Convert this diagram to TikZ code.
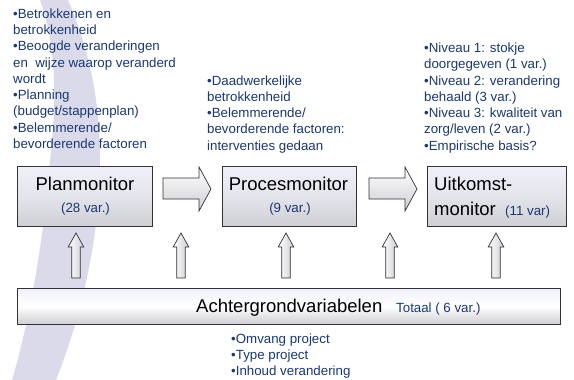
\documentclass[tikz,border=0pt]{standalone}
\usepackage{fontspec}
\setmainfont{Liberation Sans}
\definecolor{txtblue}{RGB}{28,56,112}
\definecolor{swoosh}{RGB}{218,218,234}
\definecolor{edge}{RGB}{50,50,55}
\definecolor{boxtop}{RGB}{240,240,250}
\definecolor{boxmid}{RGB}{228,228,236}
\definecolor{boxbot}{RGB}{206,206,212}
\begin{document}
\begin{tikzpicture}[x=1pt,y=-1pt,
  box/.style={draw=edge,line width=0.9pt,top color=boxtop,bottom color=boxbot,middle color=boxmid},
  bar/.style={draw=edge,line width=0.9pt,top color=boxtop,bottom color=boxbot,middle color=white},
  blockarrow/.style={draw=edge,line width=0.7pt,top color=white,bottom color=boxbot},
  uparrow/.style={draw=edge,line width=0.7pt,left color=white,right color=boxbot},
  list/.style={align=left,anchor=base west,inner sep=0pt,text=txtblue,font=\fontsize{13.3}{16.25}\selectfont},
  title/.style={inner sep=0pt,anchor=base,font=\fontsize{18.5}{22}\selectfont},
  small/.style={inner sep=0pt,anchor=base,text=txtblue,font=\fontsize{13.3}{16}\selectfont}]
\useasboundingbox (0,0) rectangle (574,380);
\fill[white] (0,0) rectangle (574,380);
% background swoosh
\fill[swoosh] (40,0) .. controls (58,50) and (56,110) .. (50,160)
  .. controls (45,230) and (30,320) .. (12,380)
  -- (56,380) .. controls (80,320) and (100,240) .. (100,160)
  .. controls (100,90) and (85,40) .. (68,0) -- cycle;
% boxes
\node[box,minimum width=135pt,minimum height=60pt,anchor=north west] (plan) at (17,166) {};
\node[box,minimum width=134pt,minimum height=60pt,anchor=north west] (proces) at (222,166) {};
\node[box,minimum width=139pt,minimum height=60pt,anchor=north west] (uitkomst) at (427,166) {};
\node[bar,minimum width=543pt,minimum height=36pt,anchor=north west] (achter) at (17,288) {};
% box texts
\node[title] (plant) at (85,190) {Planmonitor};
\node[small] (planv) at (85.5,212) {(28 var.)};
\node[title] (proct) at (288.5,190) {Procesmonitor};
\node[small] (procv) at (290,212) {(9 var.)};
\node[title,anchor=base west] (uitt) at (434,190) {Uitkomst-};
\node[title,anchor=base west] (uitm) at (434,215) {monitor};
\node[small,anchor=base west] (uitv) at (505,215) {(11 var)};
\node[title,anchor=base west] (acht) at (196,312) {Achtergrondvariabelen};
\node[small,anchor=base west] (tot) at (396,312) {Totaal ( 6 var.)};
% lists (anchor base = baseline of last line)
\node[list] (l1) at (13,148.3) {•Betrokkenen en\\betrokkenheid\\•Beoogde veranderingen\\en\ \ wijze waarop veranderd\\wordt\\•Planning\\(budget/stappenplan)\\•Belemmerende/\\bevorderende factoren};
\node[list] (l2) at (207,150) {•Daadwerkelijke\\betrokkenheid\\•Belemmerende/\\bevorderende factoren:\\interventies gedaan};
\node[list] (l3) at (424,150) {•Niveau 1: stokje\\doorgegeven (1 var.)\\•Niveau 2: verandering\\behaald (3 var.)\\•Niveau 3: kwaliteit van\\zorg/leven (2 var.)\\•Empirische basis?};
\node[list] (l4) at (231,375.6) {•Omvang project\\•Type project\\•Inhoud verandering};
% block arrows between boxes
\foreach \sx/\ex/\nm in {163/211/raone, 369/417/ratwo}{
  \coordinate (\nm-s) at (\sx,189);
  \coordinate (\nm-e) at (\ex,189);
  \draw[blockarrow] (\sx,178) -- (\ex-12,178) -- (\ex-12,167) -- (\nm-e) -- (\ex-12,211)
    -- (\ex-12,199) -- (\sx,199) -- cycle;
}
% up arrows from background bar
\foreach \cx/\nm in {76/uone,181/utwo,286/uthree,390/ufour,496/ufive}{
  \coordinate (\nm-tip) at (\cx,233);
  \draw[uparrow] (\cx-4.2,278) -- (\cx-4.2,247) -- (\cx-7.8,247) -- (\nm-tip) -- (\cx+7.8,247)
    -- (\cx+4.2,247) -- (\cx+4.2,278) -- cycle;
}
\end{tikzpicture}
\end{document}
